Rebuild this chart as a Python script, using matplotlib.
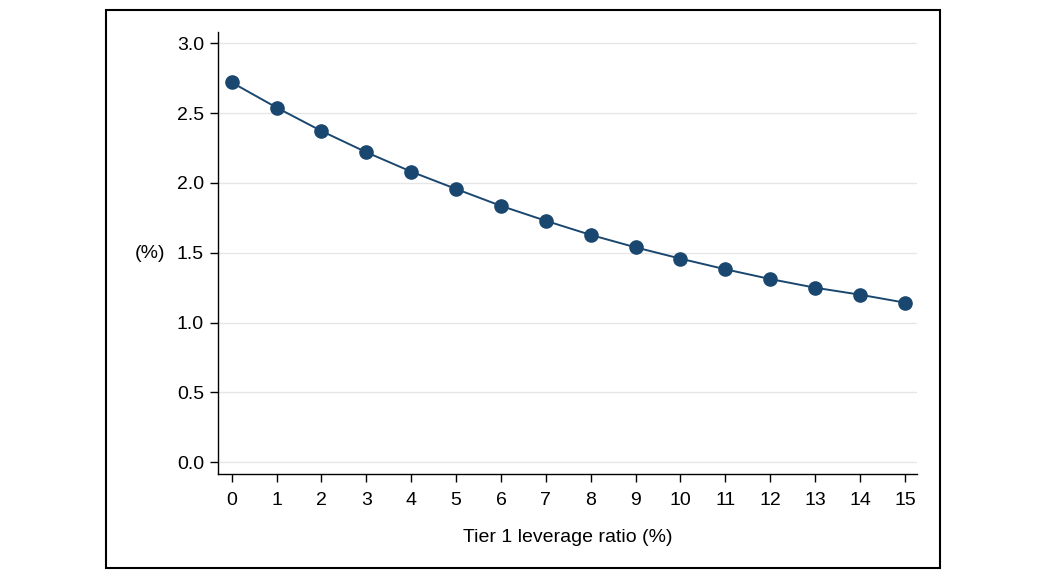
import matplotlib
matplotlib.use("Agg")
import matplotlib.pyplot as plt
from matplotlib.patches import Rectangle

leverage = list(range(0, 16))
values = [2.72, 2.54, 2.372, 2.22, 2.081, 1.957, 1.836, 1.729, 1.628, 1.539,
          1.458, 1.382, 1.312, 1.25, 1.20, 1.143]
yticks = [0.0, 0.5, 1.0, 1.5, 2.0, 2.5, 3.0]
ytick_labels = ["0.0", "0.5", "1.0", "1.5", "2.0", "2.5", "3.0"]

plt.rcParams['font.family'] = ['Liberation Sans', 'DejaVu Sans']

W, H = 1060, 583
fig = plt.figure(figsize=(W / 100, H / 100), dpi=100)
fig.patch.set_facecolor('white')

# outer frame
fig.patches.append(Rectangle((106 / W, 1 - 568 / H), (940 - 106) / W, (568 - 10) / H,
                             transform=fig.transFigure, fill=False,
                             edgecolor='black', linewidth=1.5))

ax = fig.add_axes([218 / W, 1 - 474 / H, (917 - 218) / W, (474 - 32) / H])
color = '#1a476f'
ax.plot(leverage, values, color=color, linewidth=1.4, marker='o',
        markersize=9.5, markerfacecolor=color, markeredgecolor=color, zorder=3)

ax.set_xlim(-0.305, 15.27)
ax.set_ylim(-0.084, 3.081)
ax.set_xticks(leverage)
ax.set_xticklabels([str(v) for v in leverage])
ax.set_yticks(yticks)
ax.set_yticklabels(ytick_labels)

for y in yticks:
    ax.axhline(y, color='#e6e6e6', linewidth=1.0, zorder=1)

for s in ['top', 'right']:
    ax.spines[s].set_visible(False)
for s in ['left', 'bottom']:
    ax.spines[s].set_linewidth(1.0)
    ax.spines[s].set_color('black')

ax.tick_params(axis='both', direction='out', length=6, width=1.0, labelsize=14,
               colors='black')
ax.tick_params(axis='x', pad=7)
ax.tick_params(axis='y', pad=4)

ax.set_xlabel('Tier 1 leverage ratio (%)', fontsize=14, labelpad=14)
fig.text(150 / W, 1 - 254 / H, '(%)', fontsize=14, ha='center', va='center')

fig.savefig('out.png', dpi=100, facecolor='white')
